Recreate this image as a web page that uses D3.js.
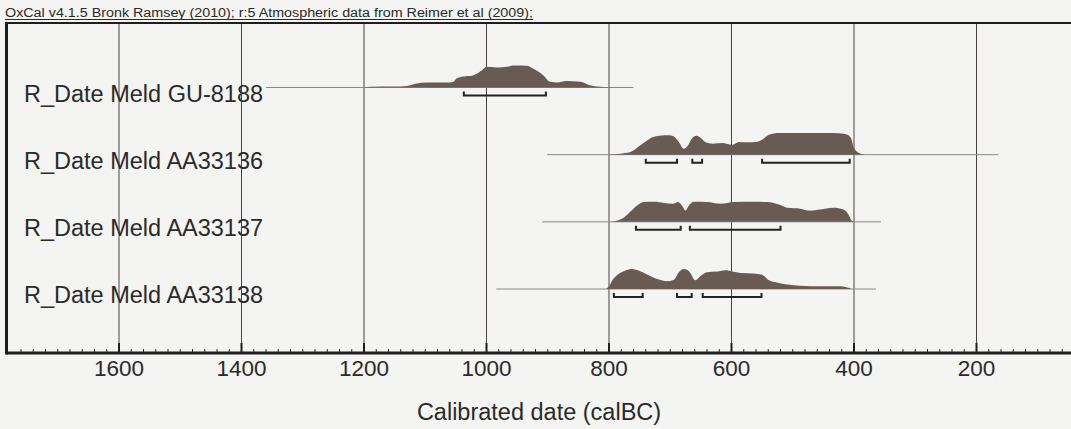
<!DOCTYPE html>
<html><head><meta charset="utf-8">
<script src="https://cdn.jsdelivr.net/npm/d3@7"></script>
<style>
body{margin:0;background:#f4f4f2}
svg{display:block}
text{font-family:"Liberation Sans",Arial,sans-serif;fill:#2a2a2a}
</style>
</head><body><svg id="c" width="1071" height="429"></svg>
<script>
// ---- data ----
const headerText = "OxCal v4.1.5 Bronk Ramsey (2010); r:5 Atmospheric data from Reimer et al (2009);";
const axisTitle = "Calibrated date (calBC)";
const rowNames = ["R_Date Meld GU-8188", "R_Date Meld AA33136", "R_Date Meld AA33137", "R_Date Meld AA33138"];
const majorTicks = [1600, 1400, 1200, 1000, 800, 600, 400, 200];
const tickLabels = ["1600", "1400", "1200", "1000", "800", "600", "400", "200"];
// line extent of each row [from, to] (calBC)
const rowRanges = [[1360, 760], [901, 164], [909, 356], [984, 364]];
// posterior density: [year calBC, relative probability]
const distGU8188 = [[1200,0],[1190,.03],[1150,.04],[1130,.07],[1114,.18],[1098,.23],[1060,.23],[1054,.26],[1049,.41],[1038,.5],[1022,.55],[1008,.77],[1000,.94],[983,.91],[967,.94],[956,1],[934,.99],[924,.86],[907,.55],[896,.26],[885,.23],[869,.3],[847,.26],[831,.1],[809,.02],[790,0]];
const distAA33136 = [[800,0],[778,.05],[762,.15],[751,.38],[740,.6],[729,.79],[718,.86],[702,.88],[694,.83],[686,.58],[678,.27],[672,.38],[664,.76],[657,.86],[650,.76],[642,.56],[631,.5],[615,.53],[599,.45],[588,.58],[577,.56],[560,.58],[550,.68],[539,.91],[522,.99],[495,.99],[468,.99],[435,.99],[414,.94],[405,.76],[400,.3],[392,.08],[381,0]];
const distAA33137 = [[800,0],[786,.06],[775,.21],[764,.49],[753,.76],[743,.9],[726,.91],[710,.86],[696,.82],[687,.9],[680,.71],[675,.51],[669,.76],[661,.91],[640,.9],[618,.82],[596,.9],[564,.91],[542,.9],[520,.76],[509,.64],[488,.6],[472,.51],[455,.56],[434,.64],[417,.56],[409,.33],[404,.06],[398,0]];
const distAA33138 = [[805,0],[800,.12],[794,.42],[786,.65],[775,.82],[764,.91],[753,.85],[737,.65],[721,.45],[705,.35],[694,.42],[686,.76],[678,.91],[669,.8],[659,.4],[650,.6],[640,.76],[623,.79],[610,.85],[599,.8],[585,.73],[564,.7],[550,.65],[539,.4],[526,.3],[509,.2],[488,.15],[455,.12],[423,.12],[412,.08],[404,0]];
// 95.4% ranges
const rangesGU8188 = [[1037, 903]];
const rangesAA33136 = [[740, 689], [664, 648], [550, 407]];
const rangesAA33137 = [[756, 683], [668, 520]];
const rangesAA33138 = [[792, 745], [689, 665], [647, 551]];

const dists = [distGU8188, distAA33136, distAA33137, distAA33138];
const ranges = [rangesGU8188, rangesAA33136, rangesAA33137, rangesAA33138];

// ---- drawing ----
const svg = d3.select("#c");
const W = 1071, H = 429;
const frameLeft = 6.5, frameTop = 23, axisY = 353;

const x = d3.scaleLinear().domain([1200, 400]).range([364, 854]);
const y = d3.scalePoint().domain(rowNames).range([87.5, 289]);
const h = d3.scaleLinear().domain([0, 1]).range([0, 22]);

svg.append("rect").attr("width", W).attr("height", H).attr("fill", "#f4f4f2");

// header
svg.append("text").attr("x", 5).attr("y", 16.5).attr("font-size", 12)
  .attr("textLength", 528).attr("lengthAdjust", "spacingAndGlyphs")
  .text(headerText);
svg.append("line").attr("x1", 5).attr("x2", 533).attr("y1", 19.5).attr("y2", 19.5)
  .attr("stroke", "#2a2a2a").attr("stroke-width", 1);

// grid lines
svg.append("g").selectAll("line").data(majorTicks).join("line")
  .attr("x1", d => x(d)).attr("x2", d => x(d))
  .attr("y1", frameTop).attr("y2", axisY)
  .attr("stroke", "#4a4242").attr("stroke-width", 1);

// row base lines
svg.append("g").selectAll("line").data(rowRanges).join("line")
  .attr("x1", d => x(d[0])).attr("x2", d => x(d[1]))
  .attr("y1", (d, i) => y(rowNames[i])).attr("y2", (d, i) => y(rowNames[i]))
  .attr("stroke", "#8a8a8a").attr("stroke-width", 1);

// distributions
const area = d3.area().curve(d3.curveMonotoneX);
dists.forEach((dist, i) => {
  const base = y(rowNames[i]);
  area.x(d => x(d[0])).y0(base).y1(d => base - h(d[1]));
  svg.append("path").datum(dist).attr("d", area).attr("fill", "#685b54");
});

// range brackets
ranges.forEach((rs, i) => {
  const by = y(rowNames[i]) + 8;
  svg.append("g").selectAll("path").data(rs).join("path")
    .attr("d", d => `M${x(d[0])},${by - 4}V${by}H${x(d[1])}V${by - 4}`)
    .attr("fill", "none").attr("stroke", "#222").attr("stroke-width", 2);
});

// row labels
svg.append("g").selectAll("text").data(rowNames).join("text")
  .attr("x", 24).attr("y", d => y(d) + 14)
  .attr("font-size", 23.5)
  .text(d => d);

// frame
svg.append("line").attr("x1", frameLeft).attr("x2", W).attr("y1", frameTop).attr("y2", frameTop)
  .attr("stroke", "#1e1e1e").attr("stroke-width", 2);
svg.append("line").attr("x1", frameLeft).attr("x2", frameLeft).attr("y1", frameTop - 1).attr("y2", axisY + 1.5)
  .attr("stroke", "#1e1e1e").attr("stroke-width", 3);

// axis
const axisG = svg.append("g").attr("transform", `translate(0,${axisY})`);
const minor = d3.range(1760, 40, -20).filter(v => !majorTicks.includes(v));
axisG.selectAll("line.minor").data(minor).join("line").attr("class", "minor")
  .attr("x1", d => x(d)).attr("x2", d => x(d)).attr("y1", 0).attr("y2", -4)
  .attr("stroke", "#2a2a2a").attr("stroke-width", 1);
axisG.selectAll("line.major").data(majorTicks).join("line").attr("class", "major")
  .attr("x1", d => x(d)).attr("x2", d => x(d)).attr("y1", 0).attr("y2", -10)
  .attr("stroke", "#1e1e1e").attr("stroke-width", 2);
axisG.append("line").attr("x1", frameLeft).attr("x2", W).attr("y1", 0).attr("y2", 0)
  .attr("stroke", "#1e1e1e").attr("stroke-width", 3);
axisG.selectAll("text").data(majorTicks).join("text")
  .attr("x", d => x(d)).attr("y", 23).attr("text-anchor", "middle")
  .attr("font-size", 22.5).text((d, i) => tickLabels[i]);

svg.append("text").attr("x", 539).attr("y", 420).attr("text-anchor", "middle")
  .attr("font-size", 23.5).text(axisTitle);
</script>
</body></html>
